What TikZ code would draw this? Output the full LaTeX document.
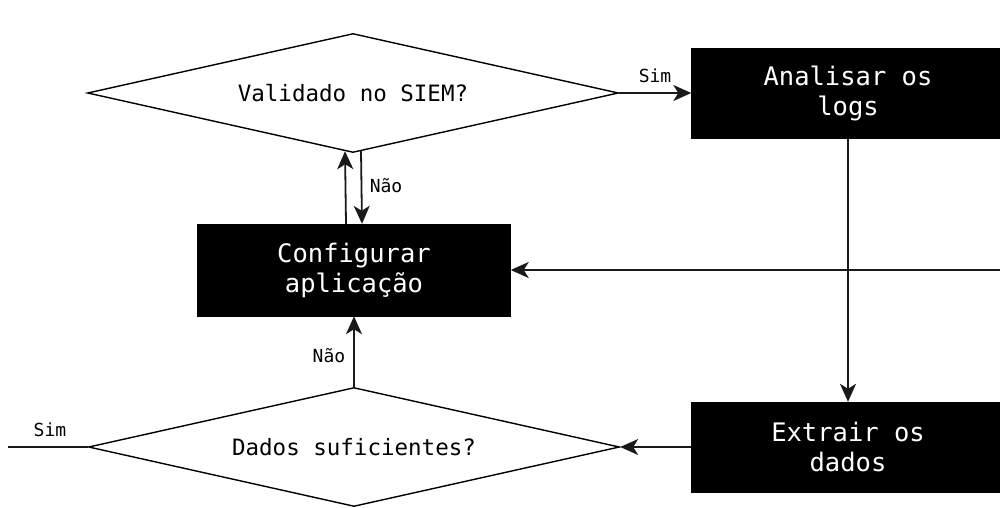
\documentclass[tikz,border=0pt]{standalone}
\usepackage{fontspec}
\setmonofont{DejaVu Sans Mono}
\usetikzlibrary{shapes.geometric,arrows.meta,calc}
\begin{document}
\begin{tikzpicture}[x=1pt,y=-1pt,
  proc/.style={draw=black,fill=black,text=white,minimum width=313pt,minimum height=90pt,inner sep=0pt,align=center,font=\ttfamily\fontsize{25.5}{30}\selectfont},
  dec/.style={draw=black,line width=1.4pt,fill=white,shape=diamond,aspect=4.46,inner sep=0pt,minimum width=531pt,minimum height=119pt,font=\ttfamily\fontsize{22.5}{26}\selectfont},
  lab/.style={font=\ttfamily\fontsize{18}{20}\selectfont,inner sep=0pt},
  conn/.style={draw=black!90,line width=1.8pt},
  arr/.style={conn,-{Stealth[length=18pt,width=16pt,inset=5pt]}}]
\clip (0,0) rectangle (1000,507);
\fill[white] (0,0) rectangle (1000,507);
\node[dec] (d1) at (353,93) {Validado no SIEM?};
\node[proc] (ana) at (848,93) {Analisar os\\logs};
\node[proc,minimum height=92pt] (cfg) at (354,270) {Configurar\\aplicação};
\node[proc] (ext) at (848,447) {Extrair os\\dados};
\node[dec] (d2) at (354,447) {Dados suficientes?};
\coordinate (rin) at (1000,270);
\coordinate (lout) at (8,447);
\draw[arr] (d1.east) -- (ana.west);
\node[lab] at (655,76) {Sim};
\draw[arr] ([xshift=-8pt]cfg.north) -- ($(d1.south)+(-8,-2)$);
\draw[arr] ($(d1.south)+(8,-2)$) -- ([xshift=8pt]cfg.north);
\node[lab] at (386,186) {Não};
\draw[arr] (ana.south) -- (ext.north);
\draw[arr] (rin) -- (cfg.east);
\draw[arr] (ext.west) -- (d2.east);
\draw[conn] (d2.west) -- (lout);
\node[lab] at (50,430) {Sim};
\draw[arr] (d2.north) -- (cfg.south);
\node[lab] at (329,356) {Não};
\end{tikzpicture}
\end{document}
